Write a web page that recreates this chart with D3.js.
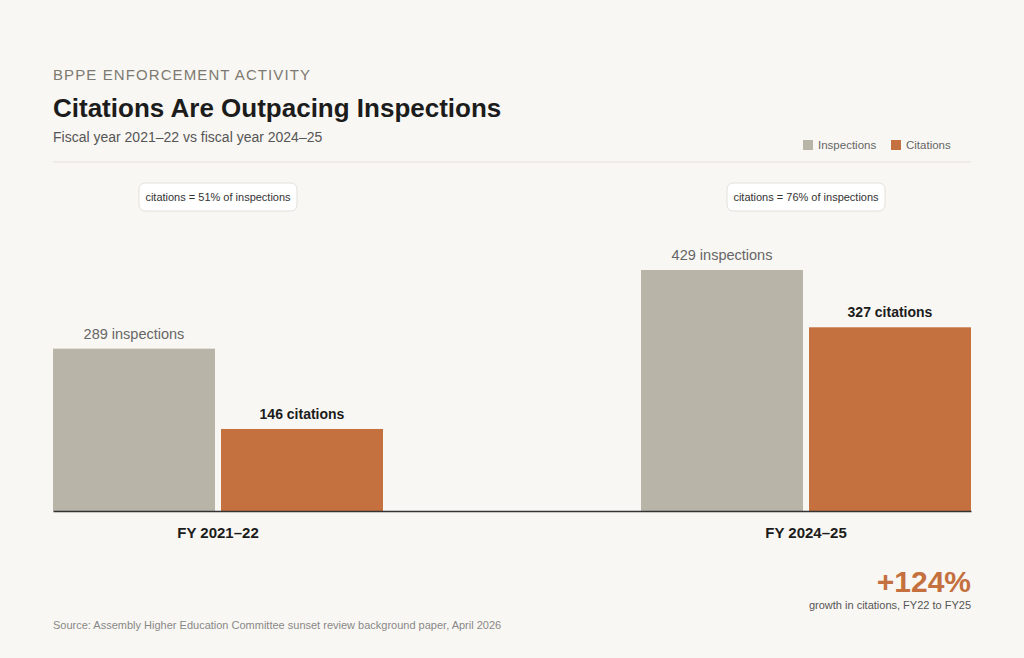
<!DOCTYPE html>
<html>
<head>
<meta charset="utf-8">
<script src="https://cdn.jsdelivr.net/npm/d3@7"></script>
<style>
  body { margin: 0; background: #f9f7f3; }
  text { font-family: "Liberation Sans", Arial, sans-serif; }
</style>
</head>
<body>
<div id="chart"></div>
<script>
// data
let years = ["FY 2021–22", "FY 2024–25"];
let series = ["Inspections", "Citations"];
let inspections = [289, 429];
let citations = [146, 327];
let ratioNotes = ["citations = 51% of inspections", "citations = 76% of inspections"];

let svgWidth = 1024, svgHeight = 658;
let colors = { Inspections: "#b8b5a8", Citations: "#c4703f" };

let svg = d3.select("#chart").append("svg")
  .attr("width", svgWidth).attr("height", svgHeight);

svg.append("rect").attr("width", svgWidth).attr("height", svgHeight).attr("fill", "#f9f7f3");

// header
svg.append("text").attr("x", 53).attr("y", 80).attr("font-size", 15).attr("letter-spacing", 1.1)
  .attr("fill", "#7d7a72").text("BPPE ENFORCEMENT ACTIVITY");
svg.append("text").attr("x", 53).attr("y", 117).attr("font-size", 26).attr("font-weight", "bold")
  .attr("fill", "#1c1c1c").text("Citations Are Outpacing Inspections");
svg.append("text").attr("x", 53).attr("y", 142).attr("font-size", 14)
  .attr("fill", "#555").text("Fiscal year 2021–22 vs fiscal year 2024–25");
svg.append("line").attr("x1", 53).attr("x2", 971).attr("y1", 162).attr("y2", 162)
  .attr("stroke", "#e3e0d9");

// legend
let legend = svg.append("g");
[["Inspections", 803], ["Citations", 891]].forEach(([s, x]) => {
  legend.append("rect").attr("x", x).attr("y", 140).attr("width", 10).attr("height", 10).attr("fill", colors[s]);
  legend.append("text").attr("x", x + 15).attr("y", 149).attr("font-size", 11.5).attr("fill", "#666").text(s);
});

// scales
let x0 = d3.scaleBand().domain(years).range([53, 971]).paddingInner(0.4388).paddingOuter(0);
let x1 = d3.scaleBand().domain(series).range([0, x0.bandwidth()]).paddingInner(0.0357);
let y = d3.scaleLinear().domain([0, 429]).range([511, 270]);

let rows = years.map((yr, i) => ({ year: yr, Inspections: inspections[i], Citations: citations[i], note: ratioNotes[i] }));

let groups = svg.selectAll(".grp").data(rows).enter().append("g")
  .attr("transform", d => `translate(${x0(d.year)},0)`);

series.forEach(s => {
  groups.append("rect")
    .attr("x", x1(s)).attr("width", x1.bandwidth())
    .attr("y", d => y(d[s])).attr("height", d => y(0) - y(d[s]))
    .attr("fill", colors[s]);
  groups.append("text")
    .attr("x", x1(s) + x1.bandwidth() / 2)
    .attr("y", d => y(d[s]) - 10)
    .attr("text-anchor", "middle")
    .attr("font-size", s === "Citations" ? 14 : 14.5)
    .attr("font-weight", s === "Citations" ? "bold" : "normal")
    .attr("fill", s === "Citations" ? "#1c1c1c" : "#666")
    .text(d => d[s] + " " + s.toLowerCase());
});

// ratio notes
groups.append("rect")
  .attr("x", x0.bandwidth() / 2 - 79).attr("y", 183).attr("width", 158).attr("height", 28)
  .attr("rx", 6).attr("fill", "#fff").attr("stroke", "#e3e0d9");
groups.append("text")
  .attr("x", x0.bandwidth() / 2).attr("y", 201).attr("text-anchor", "middle")
  .attr("font-size", 11).attr("fill", "#333").text(d => d.note);

// baseline + axis
let xAxis = svg.append("g").attr("transform", `translate(0,511)`)
  .call(d3.axisBottom(x0).tickSize(0).tickPadding(16));
xAxis.select(".domain").attr("stroke", "#333").attr("stroke-width", 1.5);
xAxis.selectAll("text").attr("font-size", 15).attr("font-weight", "bold").attr("fill", "#1c1c1c")
  .style("font-family", "Liberation Sans, Arial, sans-serif");

// callout
svg.append("text").attr("x", 971).attr("y", 592).attr("text-anchor", "end")
  .attr("font-size", 30).attr("font-weight", "bold").attr("fill", "#c4703f").text("+124%");
svg.append("text").attr("x", 971).attr("y", 609).attr("text-anchor", "end")
  .attr("font-size", 11).attr("fill", "#555").text("growth in citations, FY22 to FY25");

svg.append("text").attr("x", 53).attr("y", 629).attr("font-size", 11)
  .attr("fill", "#888").text("Source: Assembly Higher Education Committee sunset review background paper, April 2026");
</script>
</body>
</html>
